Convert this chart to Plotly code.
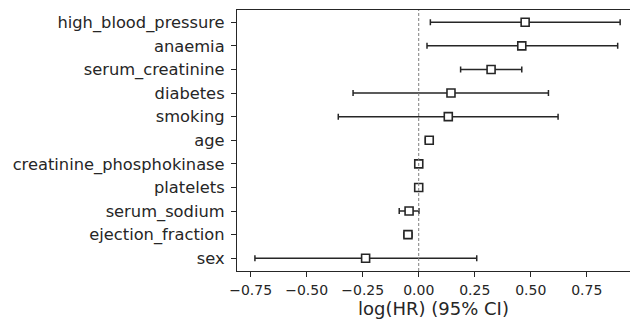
import plotly.graph_objects as go

# Cox model coefficients with 95% confidence bounds (log hazard ratio)
covariates = ["sex", "ejection_fraction", "serum_sodium", "platelets",
              "creatinine_phosphokinase", "age", "smoking", "diabetes",
              "serum_creatinine", "anaemia", "high_blood_pressure"]
coef = [-0.237, -0.048, -0.043, 0.0, 0.0002, 0.047, 0.132, 0.144,
        0.323, 0.460, 0.475]
ci_lower = [-0.731, -0.066, -0.087, -0.0001, 0.0001, 0.030, -0.359, -0.293,
            0.187, 0.037, 0.052]
ci_upper = [0.259, -0.030, 0.001, 0.0001, 0.0003, 0.064, 0.622, 0.579,
            0.460, 0.888, 0.899]
x_ticks = [-0.75, -0.50, -0.25, 0.00, 0.25, 0.50, 0.75]
x_tick_labels = ["\u22120.75", "\u22120.50", "\u22120.25", "0.00", "0.25", "0.50", "0.75"]

rows = list(range(len(covariates)))
err_plus = [u - c for u, c in zip(ci_upper, coef)]
err_minus = [c - l for c, l in zip(coef, ci_lower)]

ink = "#262626"
family = "DejaVu Sans"
xtick_font = dict(family=family, size=14, color=ink)
ytick_font = dict(family=family, size=16.3, color=ink)
title_font = dict(family=family, size=18, color=ink)

fig = go.Figure()
fig.add_trace(go.Scatter(
    x=coef, y=rows, mode="markers",
    marker=dict(symbol="square", size=8, color="white",
                line=dict(color=ink, width=1.6)),
    error_x=dict(type="data", symmetric=False, array=err_plus,
                 arrayminus=err_minus, color=ink, thickness=1.5, width=3),
    showlegend=False, hoverinfo="skip",
))

fig.add_vline(x=0, line=dict(color="#7f7f7f", width=1, dash="3px,2px"))

fig.update_layout(
    width=630, height=323,
    margin=dict(l=237, r=0, t=10, b=52),
    paper_bgcolor="white", plot_bgcolor="white",
    font=xtick_font,
    xaxis=dict(
        range=[-0.811, 0.943], tickvals=x_ticks, ticktext=x_tick_labels,
        showgrid=False, zeroline=False, showline=True, linecolor=ink,
        linewidth=1.2, mirror=True, ticks="outside", ticklen=5,
        tickcolor=ink, tickfont=xtick_font, ticklabelstandoff=1,
        title=dict(text="log(HR) (95% CI)", font=title_font, standoff=2),
    ),
    yaxis=dict(
        range=[-0.54, 10.52], tickvals=rows, ticktext=covariates,
        showgrid=False, zeroline=False, showline=True, linecolor=ink,
        linewidth=1.2, mirror=False, ticks="outside", ticklen=5,
        tickcolor=ink, tickfont=ytick_font, ticklabelstandoff=3,
    ),
)

fig.write_html("out.html")
